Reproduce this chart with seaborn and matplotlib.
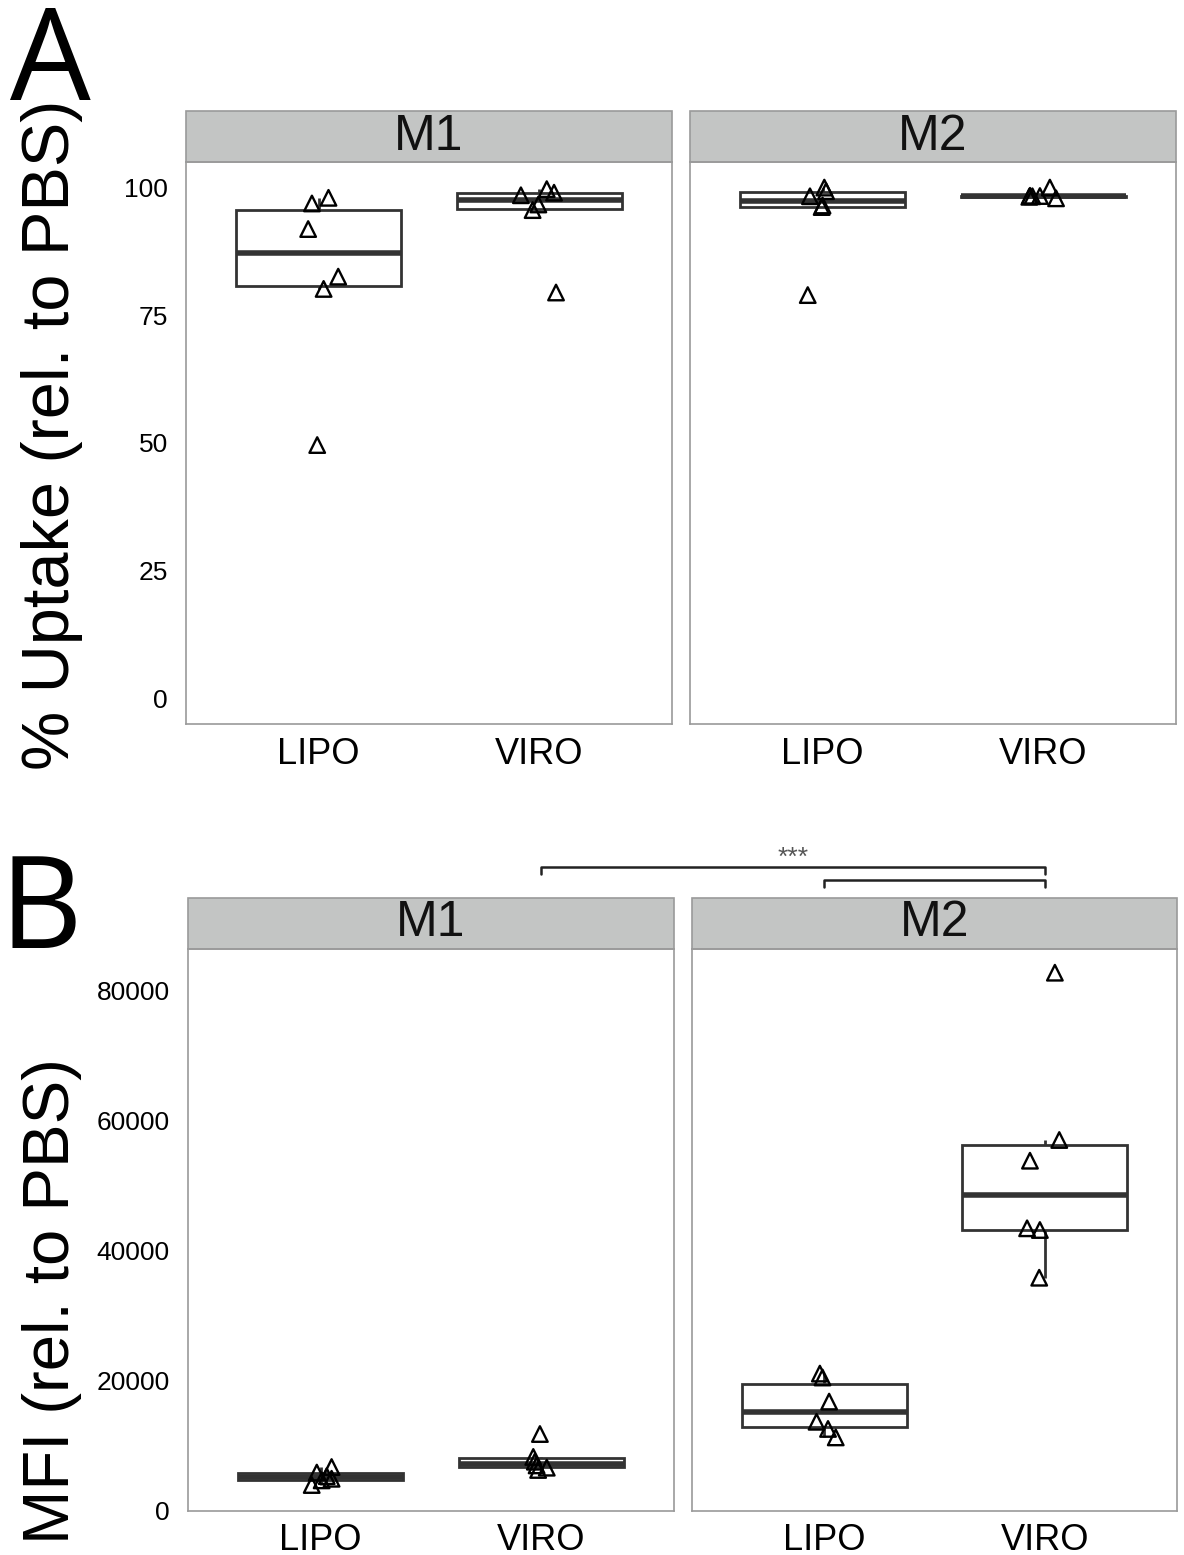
import seaborn as sns
import matplotlib.pyplot as plt
import pandas as pd
from matplotlib.lines import Line2D
from matplotlib.patches import Rectangle

# Data: one list of values per panel / cell type / treatment
treatments = ['LIPO', 'VIRO']
cells = ['M1', 'M2']

uptake_m1_lipo = [96.8, 97.9, 91.8, 82.5, 80.1, 49.6]
uptake_m1_viro = [98.4, 99.6, 98.9, 96.6, 95.5, 79.4]
uptake_m2_lipo = [99.9, 98.2, 96.4, 96.1, 78.9, 99.2]
uptake_m2_viro = [97.8, 98.1, 98.2, 98.25, 98.3, 99.9]

mfi_m1_lipo = [3990, 4700, 4950, 5350, 5900, 6750]
mfi_m1_viro = [11820, 8300, 7570, 7000, 6650, 6300]
mfi_m2_lipo = [21100, 20500, 16800, 13700, 12600, 11300]
mfi_m2_viro = [82660, 56970, 53790, 43410, 43150, 35820]

# horizontal jitter of each point (category units)
jit_a_m1_lipo = [-0.03, 0.045, -0.047, 0.089, 0.023, -0.006]
jit_a_m1_viro = [-0.084, 0.033, 0.066, -0.005, -0.031, 0.075]
jit_a_m2_lipo = [0.008, -0.057, 0.0, -0.004, -0.067, 0.016]
jit_a_m2_viro = [0.057, -0.064, -0.05, -0.016, -0.061, 0.029]
jit_b_m1_lipo = [-0.04, 0.005, 0.05, 0.028, -0.017, 0.05]
jit_b_m1_viro = [-0.007, -0.037, -0.03, -0.022, 0.024, -0.015]
jit_b_m2_lipo = [-0.02, -0.008, 0.022, -0.035, 0.017, 0.052]
jit_b_m2_viro = [0.046, 0.066, -0.067, -0.08, -0.022, -0.025]

uptake_ticks = [0, 25, 50, 75, 100]
mfi_ticks = [0, 20000, 40000, 60000, 80000]


def build(panel, groups):
    rows = []
    for cell, treat, vals, jit in groups:
        for v, j in zip(vals, jit):
            rows.append({'panel': panel, 'cell': cell, 'treatment': treat,
                         'value': v, 'jitter': j})
    return rows


rows = build('A', [('M1', 'LIPO', uptake_m1_lipo, jit_a_m1_lipo),
                   ('M1', 'VIRO', uptake_m1_viro, jit_a_m1_viro),
                   ('M2', 'LIPO', uptake_m2_lipo, jit_a_m2_lipo),
                   ('M2', 'VIRO', uptake_m2_viro, jit_a_m2_viro)])
rows += build('B', [('M1', 'LIPO', mfi_m1_lipo, jit_b_m1_lipo),
                    ('M1', 'VIRO', mfi_m1_viro, jit_b_m1_viro),
                    ('M2', 'LIPO', mfi_m2_lipo, jit_b_m2_lipo),
                    ('M2', 'VIRO', mfi_m2_viro, jit_b_m2_viro)])
df = pd.DataFrame(rows)

sns.set_style('white')
plt.rcParams['font.family'] = ['Liberation Sans', 'DejaVu Sans']
plt.rcParams['text.color'] = 'black'

W, H = 1184, 1555
fig = plt.figure(figsize=(W / 100, H / 100), dpi=100)


def px_axes(left, top, right, bottom):
    return fig.add_axes([left / W, 1 - bottom / H, (right - left) / W, (bottom - top) / H])


layout = {
    ('A', 'M1'): (186, 162, 672, 724),
    ('A', 'M2'): (690, 162, 1176, 724),
    ('B', 'M1'): (188, 949, 674, 1511),
    ('B', 'M2'): (692, 949, 1177, 1511),
}
axes = {}
for (panel, cell), box in layout.items():
    ax = px_axes(*box)
    axes[(panel, cell)] = ax
    sub = df[(df['panel'] == panel) & (df['cell'] == cell)]
    sns.boxplot(data=sub, x='treatment', y='value', order=treatments, ax=ax,
                width=0.75, whis=1.5, showfliers=False, showcaps=False,
                color='white', linecolor='#333333', linewidth=2.0,
                medianprops={'linewidth': 4.0, 'color': '#333333'})
    xpos = sub['treatment'].map({t: i for i, t in enumerate(treatments)}) + sub['jitter']
    ax.scatter(xpos, sub['value'], marker='^', s=125, facecolors='none',
               edgecolors='black', linewidths=1.7, zorder=5)

    ax.set_xlim(-0.6, 1.6)
    if panel == 'A':
        ax.set_ylim(-4.9, 104.9)
        ax.set_yticks(uptake_ticks)
    else:
        ax.set_ylim(0, 86300)
        ax.set_yticks(mfi_ticks)
    ax.set_xlabel('')
    ax.set_ylabel('')
    ax.tick_params(axis='x', length=7, width=1.5, color='#333333', pad=2,
                   labelsize=26, labelcolor='black')
    ax.tick_params(axis='y', length=9, width=1.5, color='#333333', pad=4,
                   labelsize=19, labelcolor='black')
    if cell == 'M2':
        ax.tick_params(axis='y', left=False, labelleft=False)
    for sp in ax.spines.values():
        sp.set_color('#9a9a9a')
        sp.set_linewidth(1.2)

    # facet strip
    strip_h = 51 / (box[3] - box[1])
    ax.add_patch(Rectangle((0, 1), 1, strip_h, transform=ax.transAxes,
                           facecolor='#c3c5c4', edgecolor='#9a9a9a',
                           linewidth=1.2, clip_on=False))
    ax.text(0.5, 1 + strip_h / 2, cell, transform=ax.transAxes, ha='center',
            va='center', fontsize=36, color='#111111')

# axis titles and panel letters
fig.text(52 / W, 1 - 435 / H, '% Uptake (rel. to PBS)', rotation=90,
         ha='center', va='center', fontsize=48, color='black')
fig.text(52 / W, 1 - 1301 / H, 'MFI (rel. to PBS)', rotation=90,
         ha='center', va='center', fontsize=47, color='black')
fig.text(50 / W, 1 - 100 / H, 'A', ha='center', va='baseline', fontsize=92,
         color='black', family=['Open Sans', 'DejaVu Sans'])
fig.text(41 / W, 1 - 948 / H, 'B', ha='center', va='baseline', fontsize=92,
         color='black', family=['Open Sans', 'DejaVu Sans'])

# significance brackets between panel B facets
fig.canvas.draw()


def fig_x(ax, xval):
    return ax.transData.transform((xval, 0))[0] / W


x_m1_viro = fig_x(axes[('B', 'M1')], 1)
x_m2_lipo = fig_x(axes[('B', 'M2')], 0)
x_m2_viro = fig_x(axes[('B', 'M2')], 1)
for x0, y_px in [(x_m1_viro, 867), (x_m2_lipo, 880)]:
    y = 1 - y_px / H
    yt = 1 - (y_px + 7) / H
    fig.add_artist(Line2D([x0, x0, x_m2_viro, x_m2_viro], [yt, y, y, yt],
                          transform=fig.transFigure, color='#222222', linewidth=1.8))
fig.text((x_m1_viro + x_m2_viro) / 2, 1 - 858 / H, '***', ha='center',
         va='center', fontsize=19, color='#555555')

fig.savefig('out.png', dpi=100)
